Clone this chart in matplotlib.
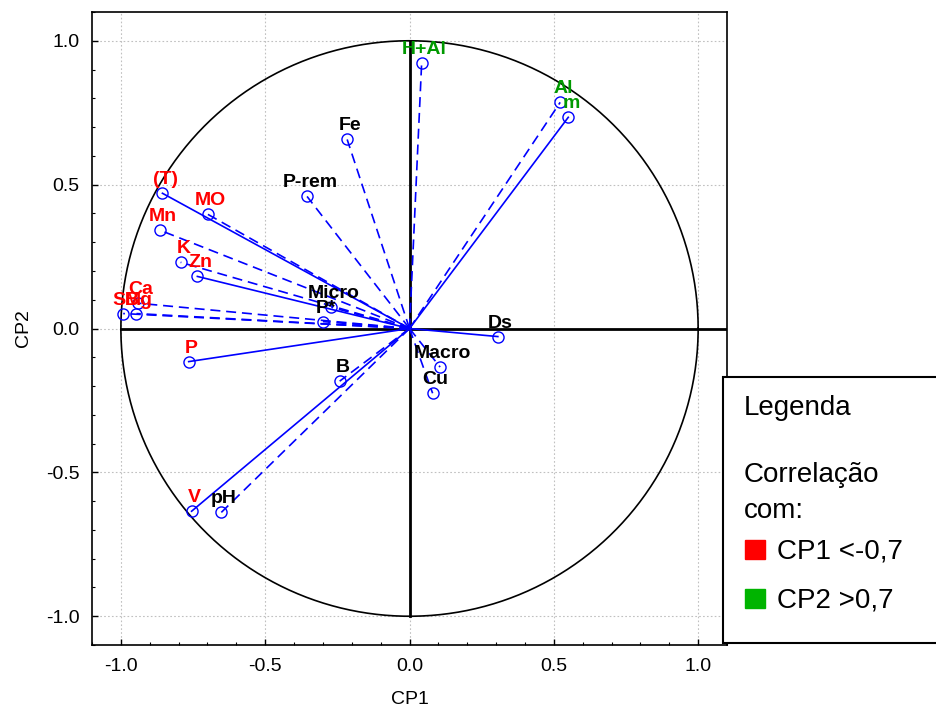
import matplotlib as mpl

mpl.use("Agg")

import matplotlib.pyplot as plt
import numpy as np
from matplotlib.patches import Rectangle
from matplotlib.ticker import MultipleLocator

plt.rcParams["font.family"] = ["Liberation Sans", "DejaVu Sans"]

# loadings
names = ["H+Al", "Al", "m", "Fe", "P-rem", "(T)", "MO", "Mn", "K", "Zn", "Ca",
         "Mg", "SB", "Micro", "P*", "Ds", "Macro", "Cu", "B", "P", "V", "pH"]
cp1 = [0.042, 0.522, 0.550, -0.216, -0.355, -0.856, -0.699, -0.863, -0.793, -0.735, -0.941,
       -0.946, -0.992, -0.271, -0.300, 0.306, 0.106, 0.080, -0.242, -0.765, -0.755, -0.652]
cp2 = [0.922, 0.786, 0.734, 0.657, 0.459, 0.470, 0.397, 0.341, 0.230, 0.181, 0.088,
       0.052, 0.052, 0.074, 0.024, -0.028, -0.134, -0.225, -0.183, -0.115, -0.635, -0.639]
group = ["cp2", "cp2", "cp2", "", "", "cp1", "cp1", "cp1", "cp1", "cp1", "cp1",
         "cp1", "cp1", "", "", "", "", "", "", "cp1", "cp1", ""]
dashed = [True, True, False, True, True, False, True, True, True, False, True,
          True, True, True, True, False, True, True, True, False, False, True]

legend_title = "Legenda"
legend_lines = ["Correlação", "com:"]
legend_items = ["CP1 <-0,7", "CP2 >0,7"]

label_colors = {"cp1": "#ff0000", "cp2": "#009900", "": "black"}
box_colors = ["#ff0000", "#00b400"]

fig = plt.figure(figsize=(9.37, 7.14), dpi=100)
ax = fig.add_axes([0.0982, 0.0966, 0.6777, 0.8866])

ax.set_xlim(-1.1, 1.1)
ax.set_ylim(-1.1, 1.1)
ax.xaxis.set_major_locator(MultipleLocator(0.5))
ax.xaxis.set_minor_locator(MultipleLocator(0.1))
ax.yaxis.set_major_locator(MultipleLocator(0.5))
ax.yaxis.set_minor_locator(MultipleLocator(0.1))
ax.xaxis.set_major_formatter(mpl.ticker.FormatStrFormatter("%.1f"))
ax.yaxis.set_major_formatter(mpl.ticker.FormatStrFormatter("%.1f"))
ax.tick_params(which="both", direction="in", top=False, right=False, labelsize=14, pad=9)
ax.tick_params(which="major", length=4.5, width=1)
ax.tick_params(which="minor", length=2.5, width=0.8)
ax.grid(True, which="major", color="#c0c0c0", linestyle=(0, (1.5, 2)), linewidth=0.8)
ax.set_axisbelow(True)
for spine in ax.spines.values():
    spine.set_linewidth(1.2)

ax.set_xlabel("CP1", fontsize=14, labelpad=12)
ax.set_ylabel("CP2", fontsize=14, labelpad=10)

theta = np.linspace(0, 2 * np.pi, 400)
ax.plot(np.cos(theta), np.sin(theta), color="black", linewidth=1.2, zorder=2)
ax.plot([-1.0, 1.1], [0, 0], color="black", linewidth=2, zorder=2)
ax.plot([0, 0], [-1.0, 1.0], color="black", linewidth=2, zorder=2)

for name, x, y, grp, dash in zip(names, cp1, cp2, group, dashed):
    line, = ax.plot([0, x], [0, y], color="#0000ff", linewidth=1.2, zorder=3)
    if dash:
        line.set_dashes((6, 3.5))
    ax.plot(x, y, marker="o", markersize=8, markerfacecolor="none",
            markeredgecolor="#0000ff", markeredgewidth=1, zorder=4)
    ax.annotate(name, (x, y), xytext=(2, 6.5), textcoords="offset points",
                ha="center", va="baseline", fontsize=14, fontweight="bold",
                color=label_colors[grp], zorder=5)

# legend box on the right, partly over the axes
fig.patches.append(Rectangle((0.7716, 0.0994), 0.26, 0.3726, transform=fig.transFigure,
                             facecolor="white", edgecolor="black", linewidth=1.5, zorder=10))
fig.text(0.794, 0.4188, legend_title, fontsize=20, va="baseline", zorder=11)
fig.text(0.794, 0.3249, legend_lines[0], fontsize=20, va="baseline", zorder=11)
fig.text(0.794, 0.2745, legend_lines[1], fontsize=20, va="baseline", zorder=11)
for item, color, yb in zip(legend_items, box_colors, [0.2171, 0.1485]):
    fig.patches.append(Rectangle((0.795, yb), 0.0213, 0.0266, transform=fig.transFigure,
                                 facecolor=color, edgecolor=color, zorder=11))
    fig.text(0.8292, yb, item, fontsize=20, va="baseline", zorder=11)

fig.savefig("out.png", dpi=100)
